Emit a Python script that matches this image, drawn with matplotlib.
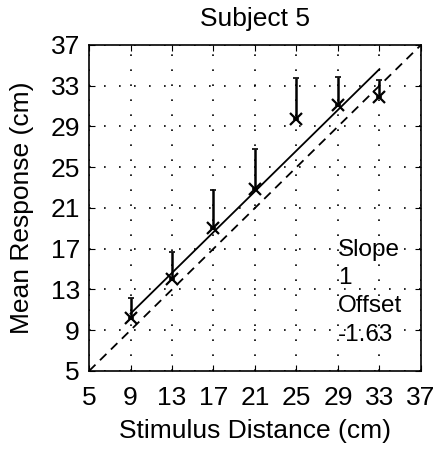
import numpy as np
import matplotlib
matplotlib.use("Agg")
import matplotlib.pyplot as plt

plt.rcParams['font.family'] = ['Liberation Sans', 'DejaVu Sans']

# stimulus distance and mean response (cm)
stimulus = [9, 13, 17, 21, 25, 29, 33]
response = [10.2, 14.0, 19.0, 22.9, 29.7, 31.1, 31.9]
err_upper = [2.0, 2.65, 3.8, 3.9, 4.1, 2.8, 1.7]
slope = 1.0
offset = 1.63
ticks = [5, 9, 13, 17, 21, 25, 29, 33, 37]

fig = plt.figure(figsize=(4.44, 4.5), dpi=100)
ax = fig.add_axes([0.2005, 0.1756, 0.7475, 0.7244])

# identity line
ax.plot([5, 37], [5, 37], 'k--', lw=1.3, dashes=(5, 3.5))

# fitted line
fit_x = np.array([stimulus[0], stimulus[-1]])
ax.plot(fit_x, slope * fit_x + offset, 'k-', lw=1.3)

# upper-only error bars
ax.errorbar(stimulus, response, yerr=[np.zeros(len(err_upper)), err_upper],
            fmt='none', ecolor='k', elinewidth=1.8, capsize=2, capthick=1.2)
ax.plot(stimulus, response, 'kx', ms=9, mew=1.6)

ax.text(29.0, 18.0, "Slope\n1\nOffset\n-1.63", fontsize=17.5, va='top', ha='left',
        linespacing=1.38)

ax.set_xlim(5, 37)
ax.set_ylim(5, 37)
ax.set_xticks(ticks)
ax.set_yticks(ticks)
ax.tick_params(direction='in', top=True, right=True, labelsize=19, length=4)
ax.tick_params(axis='x', pad=11)
ax.tick_params(axis='y', pad=6.5)
ax.grid(True, color='k', linestyle=(0, (1, 8)), lw=1.2)
for s in ax.spines.values():
    s.set_linewidth(1.2)

ax.set_title("Subject 5", fontsize=19, pad=14)
ax.set_xlabel("Stimulus Distance (cm)", fontsize=19, labelpad=6)
ax.set_ylabel("Mean Response (cm)", fontsize=19, labelpad=12)

fig.savefig("out.png", dpi=100)
